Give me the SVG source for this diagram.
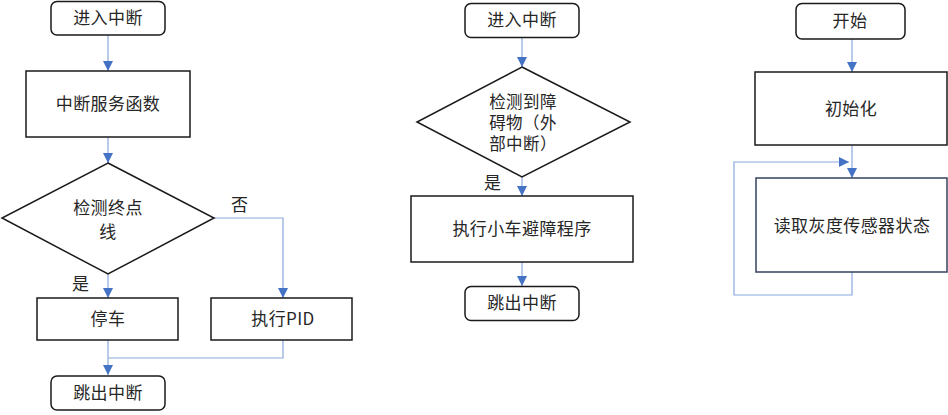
<svg xmlns="http://www.w3.org/2000/svg" width="948" height="415" viewBox="0 0 948 415">
  <style>
    .box { fill: #ffffff; stroke: #1a1a1a; stroke-width: 1.5; }
    .term { fill: #ffffff; stroke: #1a1a1a; stroke-width: 1.5; }
    .navy { fill: #ffffff; stroke: #34435e; stroke-width: 1.5; }
    .lbl { font-family: "Noto Sans CJK SC", "Noto Sans", sans-serif; font-size: 17px; letter-spacing: 0.4px; fill: #262626; text-anchor: middle; }
    .tight { font-size: 16.5px; }
    .side { font-family: "Noto Sans CJK SC", "Noto Sans", sans-serif; font-size: 17px; fill: #262626; }
    .wire { fill: none; stroke: #8aa8dc; stroke-width: 1.2; }
  </style>
  <defs>
    <marker id="arr" viewBox="0 0 10 10" refX="10" refY="5" markerWidth="10" markerHeight="10" markerUnits="userSpaceOnUse" orient="auto">
      <path d="M0,0 L10,5 L0,10 Z" fill="#4472c4"/>
    </marker>
  </defs>

  <!-- connectors -->
  <g id="connectors">
    <!-- left flow -->
    <path class="wire" d="M108,35 V71" marker-end="url(#arr)"/>
    <path class="wire" d="M108,137 V163" marker-end="url(#arr)"/>
    <path class="wire" d="M108,274 V298" marker-end="url(#arr)"/>
    <path class="wire" d="M214,218 H283 V298" marker-end="url(#arr)"/>
    <path class="wire" d="M108,340 V375" marker-end="url(#arr)"/>
    <path class="wire" d="M283,340 V358 H108"/>
    <!-- middle flow -->
    <path class="wire" d="M522,37 V67" marker-end="url(#arr)"/>
    <path class="wire" d="M522,177 V196" marker-end="url(#arr)"/>
    <path class="wire" d="M522,262 V286" marker-end="url(#arr)"/>
    <!-- right flow -->
    <path class="wire" d="M852,39 V72" marker-end="url(#arr)"/>
    <path class="wire" d="M852,145 V178" marker-end="url(#arr)"/>
    <path class="wire" d="M852,272 V295 H734 V162 H849" marker-end="url(#arr)"/>
  </g>

  <!-- left: interrupt service -->
  <g id="l-enter">
    <rect class="term" x="51" y="1.5" width="114" height="33.5" rx="6"/>
    <text class="lbl" x="108" y="24">进入中断</text>
  </g>
  <g id="l-isr">
    <rect class="box" x="26" y="71" width="164" height="66"/>
    <text class="lbl" x="108" y="110">中断服务函数</text>
  </g>
  <g id="l-check">
    <polygon class="box" points="108,163 214,218 108,274 2,218"/>
    <text class="lbl" x="108" y="214">检测终点</text>
    <text class="lbl" x="108" y="238">线</text>
  </g>
  <g id="l-labels">
    <text class="side" x="231" y="211">否</text>
    <text class="side" x="72" y="290">是</text>
  </g>
  <g id="l-stop">
    <rect class="box" x="37" y="298" width="141" height="42"/>
    <text class="lbl" x="108" y="325">停车</text>
  </g>
  <g id="l-pid">
    <rect class="box" x="211" y="298" width="141" height="42"/>
    <text class="lbl" x="283" y="325">执行PID</text>
  </g>
  <g id="l-exit">
    <rect class="term" x="51" y="376" width="114" height="34" rx="6"/>
    <text class="lbl" x="108" y="399">跳出中断</text>
  </g>

  <!-- middle: obstacle interrupt -->
  <g id="m-enter">
    <rect class="term" x="465" y="3.5" width="114" height="34" rx="6"/>
    <text class="lbl" x="522" y="26">进入中断</text>
  </g>
  <g id="m-check">
    <polygon class="box" points="522,67 630,122 522,177 417,122"/>
    <text class="lbl tight" x="523" y="108">检测到障</text>
    <text class="lbl tight" x="523" y="129">碍物（外</text>
    <text class="lbl tight" x="523" y="150">部中断）</text>
  </g>
  <g id="m-label">
    <text class="side" x="484" y="189">是</text>
  </g>
  <g id="m-avoid">
    <rect class="box" x="411" y="196" width="222" height="66"/>
    <text class="lbl" x="522" y="235">执行小车避障程序</text>
  </g>
  <g id="m-exit">
    <rect class="term" x="465" y="286.5" width="114" height="34" rx="6"/>
    <text class="lbl" x="522" y="309">跳出中断</text>
  </g>

  <!-- right: main loop -->
  <g id="r-start">
    <rect class="term" x="796" y="3.5" width="109" height="35.5" rx="6"/>
    <text class="lbl" x="850" y="27">开始</text>
  </g>
  <g id="r-init">
    <rect class="box" x="755" y="72" width="192" height="73"/>
    <text class="lbl" x="851" y="115">初始化</text>
  </g>
  <g id="r-read">
    <rect class="navy" x="756" y="178" width="191" height="94"/>
    <text class="lbl" x="852" y="232">读取灰度传感器状态</text>
  </g>
</svg>
